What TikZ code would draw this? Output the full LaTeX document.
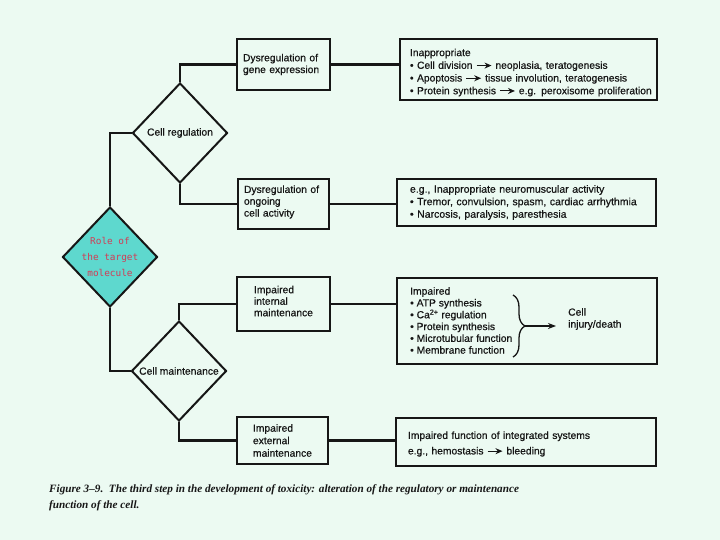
\documentclass[tikz,border=0pt]{standalone}
\usepackage{fontspec}
\setmainfont{Liberation Sans}
\newfontfamily\medfont{Liberation Sans}[FakeBold=0.6]
\newfontfamily\capfont{Liberation Serif}
\newfontfamily\rolefont{DejaVu Sans Mono}
\usetikzlibrary{shapes.geometric,arrows.meta,decorations.pathreplacing}

\definecolor{bg}{RGB}{236,250,242}
\definecolor{ink}{RGB}{22,22,22}
\definecolor{cyanfill}{RGB}{94,216,206}
\definecolor{rolered}{RGB}{210,60,85}

\newcommand{\arr}{\tikz[baseline=-0.6ex]\draw[ink,line width=1pt,-{Stealth[length=7pt,width=6pt]}] (0,0)--(15pt,0);}

\tikzset{
  conn/.style={draw=ink, line width=2.3pt},
  box/.style={draw=ink, line width=2pt, rectangle, inner ysep=0pt, align=left,
    font=\medfont\fontsize{10.3}{11.8}\selectfont, text=ink},
  dia/.style={draw=ink, line width=2pt, diamond, inner sep=0pt,
    minimum width=95pt, minimum height=100pt, font=\medfont\fontsize{10.3}{12}\selectfont, text=ink},
  txt/.style={inner sep=0pt, align=left, text=ink, font=\medfont\fontsize{10.3}{12}\selectfont},
}

\begin{document}
\begin{tikzpicture}[x=1pt,y=-1pt]
\useasboundingbox (0,0) rectangle (720,540);
\fill[bg] (0,0) rectangle (720,540);

% diamonds
\node[dia] (cr) at (180,133) {Cell regulation};
\node[dia, fill=cyanfill, inner sep=-8pt, text=rolered, align=center,
  font=\rolefont\fontsize{9.4}{16}\selectfont] (role) at (110,257) {Role of\\the target\\molecule};
\node[dia] (cm) at (179,371) {Cell maintenance};

% left boxes
\node[box, minimum width=93pt, minimum height=51pt, inner xsep=6pt, text width=81pt] (b1) at (283.5,64.5)
  {\mbox{Dysregulation of}\\gene expression};
\node[box, minimum width=91pt, minimum height=50pt, inner xsep=6pt, text width=79pt] (b3) at (283.5,204)
  {\mbox{Dysregulation of}\\ongoing\\cell activity\rule[-6pt]{0pt}{0pt}};
\node[box, minimum width=93pt, minimum height=54pt, inner xsep=17pt, text width=59pt,
  font=\medfont\fontsize{10.3}{11.5}\selectfont] (b5) at (283.5,304)
  {\mbox{Impaired}\\\mbox{internal}\\\mbox{maintenance\rule[-6pt]{0pt}{0pt}}};
\node[box, minimum width=91pt, minimum height=47pt, inner xsep=16pt, text width=59pt,
  font=\medfont\fontsize{10.3}{12.5}\selectfont] (b7) at (282.5,440.5)
  {\mbox{Impaired}\\\mbox{external}\\\mbox{maintenance}};

% right boxes
\node[box, minimum width=257pt, minimum height=61pt, inner xsep=10pt, text width=237pt,
  font=\medfont\fontsize{10.3}{12.7}\selectfont] (b2) at (528.5,69.5)
  {\mbox{\rule{0pt}{13.5pt}Inappropriate}\\
   \mbox{\textbullet\ Cell division \arr\ neoplasia, teratogenesis}\\
   \mbox{\textbullet\ Apoptosis \arr\ tissue involution, teratogenesis}\\
   \mbox{\textbullet\ Protein synthesis \arr\ e.g. peroxisome proliferation}};
\node[box, minimum width=259pt, minimum height=47pt, inner xsep=13pt, text width=233pt,
  font=\medfont\fontsize{10.5}{12.5}\selectfont] (b4) at (526.5,202.5)
  {\mbox{e.g., Inappropriate neuromuscular activity}\\
   \mbox{\textbullet\ Tremor, convulsion, spasm, cardiac arrhythmia}\\
   \mbox{\textbullet\ Narcosis, paralysis, paresthesia}};
\node[box, minimum width=260pt, minimum height=86pt] (b6) at (527,321) {};
\node[box, minimum width=260pt, minimum height=48pt, inner xsep=12pt, text width=236pt,
  font=\medfont\fontsize{10.3}{15.5}\selectfont] (b8) at (526,442)
  {\mbox{\rule{0pt}{11.5pt}Impaired function of integrated systems}\\
   \mbox{e.g., hemostasis \arr\ bleeding}};

% contents of box 6
\node[txt, anchor=north west, font=\medfont\fontsize{10.3}{11.8}\selectfont] (l6) at (410,287)
  {Impaired\\
   \textbullet\ ATP synthesis\\
   \textbullet\ Ca\textsuperscript{2+} regulation\\
   \textbullet\ Protein synthesis\\
   \textbullet\ Microtubular function\\
   \textbullet\ Membrane function};
\draw[ink, line width=1.3pt, decorate, decoration={brace, amplitude=12pt}] (513,295) -- (513,357);
\coordinate (bt) at (525,326);
\node[txt, anchor=west] (cid) at (568,319) {Cell\\injury/death};
\draw[ink, line width=1.3pt, -{Stealth[length=8pt,width=6pt]}, shorten >=12pt] (bt) -- (cid.west |- bt);

% connectors
\draw[conn] (role.north) |- (cr.west);
\draw[conn] (role.south) |- (cm.west);
\draw[conn] (cr.north) |- (b1.west);
\draw[conn] (cr.south) |- (b3.west);
\draw[conn] (cm.north) |- (b5.west);
\draw[conn] (cm.south) |- (b7.west);
\draw[conn] (b1.east) -- (b1.east -| b2.west);
\draw[conn] (b3.east) -- (b3.east -| b4.west);
\draw[conn] (b5.east) -- (b5.east -| b6.west);
\draw[conn] (b7.east) -- (b7.east -| b8.west);

% caption
\node[inner sep=0pt, anchor=north west, align=left, text=ink,
  font=\capfont\bfseries\itshape\fontsize{11.2}{16}\selectfont] (cap) at (49,484.5)
  {Figure 3–9.\ \ The third step in the development of toxicity: alteration of the regulatory or maintenance\\
   function of the cell.};
\end{tikzpicture}
\end{document}
